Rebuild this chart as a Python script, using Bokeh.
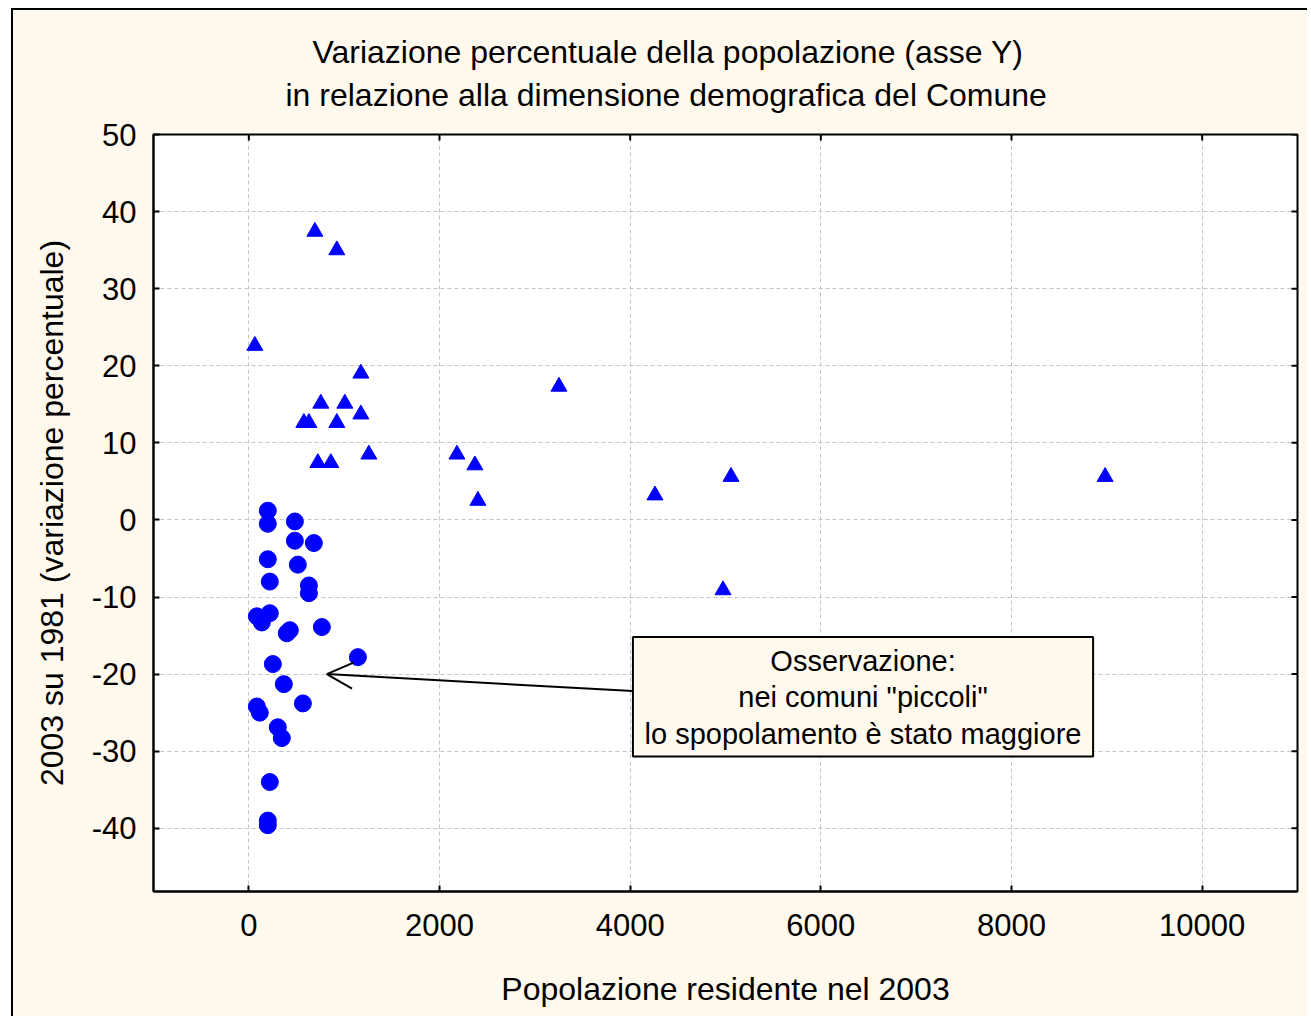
import math
from bokeh.plotting import figure
from bokeh.models import (Range1d, FixedTicker, Label, BoxAnnotation,
                          Arrow, OpenHead, Title)
from bokeh.embed import file_html
from bokeh.resources import INLINE

# ---- data ----
tri_x = [693, 923, 63, 1175, 755, 1007, 1175, 577, 630, 923, 724, 860, 1259,
         3253, 2183, 2371, 2403, 4260, 5058, 4974, 8982]
tri_y = [37.4, 35.0, 22.6, 19.0, 15.1, 15.1, 13.7, 12.6, 12.6, 12.6, 7.4, 7.4, 8.5,
         17.3, 8.5, 7.1, 2.5, 3.2, 5.6, -9.1, 5.6]

circ_x = [199, 199, 483, 483, 682, 199, 514, 220, 630, 630, 84, 136, 220, 398, 430,
          766, 1144, 252, 367, 567, 84, 115, 304, 346, 220, 199, 199]
circ_y = [1.2, -0.5, -0.2, -2.7, -3.0, -5.1, -5.8, -8.0, -8.5, -9.5, -12.5, -13.3,
          -12.1, -14.7, -14.3, -13.9, -17.8, -18.7, -21.3, -23.8, -24.2, -25.0,
          -26.9, -28.3, -34.0, -39.0, -39.6]

x_ticks = [0, 2000, 4000, 6000, 8000, 10000]
y_ticks = [-40, -30, -20, -10, 0, 10, 20, 30, 40, 50]
y_tick_labels = {t: str(t) for t in y_ticks}   # plain hyphen as in the original
x_min, x_max = -1000, 11000
y_min, y_max = -48.2, 50

title_lines = ["Variazione percentuale della popolazione (asse Y)",
               "in relazione alla dimensione demografica del Comune"]
x_label = "Popolazione residente nel 2003"
y_label = "2003 su 1981 (variazione percentuale)"
note_lines = ["Osservazione:", "nei comuni \"piccoli\"", "lo spopolamento è stato maggiore"]

FONT = "Liberation Sans"
CREAM = "#FFF9EE"

p = figure(width=1296, height=1008,
           x_range=Range1d(x_min, x_max), y_range=Range1d(y_min, y_max),
           output_backend="svg", toolbar_location=None,
           min_border_left=140, min_border_right=12, min_border_top=124,
           min_border_bottom=127,
           background_fill_color="white", border_fill_color=CREAM,
           outline_line_color="black", outline_line_width=2)
p.styles = {"border-left": "2px solid black", "border-top": "2px solid black",
            "margin-left": "11px", "margin-top": "8px"}

# grid
for g in (p.xgrid, p.ygrid):
    g.grid_line_color = "#c4c4c4"
    g.grid_line_dash = "4 3"
    g.grid_line_width = 1
p.xgrid.ticker = FixedTicker(ticks=x_ticks)
p.ygrid.ticker = FixedTicker(ticks=y_ticks)

def style_axis(ax, size):
    ax.axis_line_width = 2
    ax.axis_line_color = "black"
    ax.major_tick_in = 6
    ax.major_tick_out = 0
    ax.major_tick_line_width = 2
    ax.minor_tick_line_color = None
    ax.major_label_text_font = FONT
    ax.major_label_text_font_size = size
    ax.major_label_text_color = "black"
    ax.axis_label_text_font = FONT
    ax.axis_label_text_font_style = "normal"
    ax.axis_label_text_font_size = "32px"
    ax.axis_label_text_color = "black"

xa = p.xaxis[0]
ya = p.yaxis[0]
xa.ticker = FixedTicker(ticks=x_ticks)
ya.ticker = FixedTicker(ticks=y_ticks)
ya.major_label_overrides = y_tick_labels
style_axis(xa, "31px")
style_axis(ya, "31px")
xa.axis_label = x_label
ya.axis_label = y_label
xa.major_label_standoff = 22
ya.major_label_standoff = 17
xa.axis_label_standoff = 32
ya.axis_label_standoff = 19

# inward ticks on the right and top frame edges
p.ray(x=[x_max] * len(y_ticks), y=y_ticks, length=6, length_units="screen",
      angle=math.pi, line_color="black", line_width=2)
p.ray(x=x_ticks, y=[y_max] * len(x_ticks), length=6, length_units="screen",
      angle=-math.pi / 2, line_color="black", line_width=2)

# title: two lines
p.title.text = title_lines[0]
p.title.align = "left"
p.title.offset = 159
p.title.text_font = FONT
p.title.text_font_size = "32px"
p.title.text_font_style = "normal"
p.title.text_color = "black"
p.title.standoff = -34
sub = Title(text=title_lines[1], align="left", offset=132, text_font=FONT,
            text_font_size="32px", text_font_style="normal", text_color="black",
            standoff=44)
p.add_layout(sub, "above")

# points
p.scatter(circ_x, circ_y, marker="circle", size=17, fill_color="#0000FF",
          line_color="#0000FF")
p.scatter(tri_x, tri_y, marker="triangle", size=16, fill_color="#0000FF",
          line_color="#0000FF")

# annotation box with arrow
box_l, box_r, box_t, box_b = 4029, 8856, -15.2, -30.7
p.add_layout(Arrow(x_start=box_l, y_start=-22.2, x_end=818, y_end=-20.0,
                   line_width=2, line_color="black",
                   end=OpenHead(size=26, line_width=2, line_color="black")))
p.add_layout(BoxAnnotation(left=box_l, right=box_r, top=box_t, bottom=box_b,
                           fill_color=CREAM, fill_alpha=1.0,
                           line_color="black", line_alpha=1.0, line_width=2))
note_x = (box_l + box_r) / 2
note_y = [-18.35, -23.0, -27.8]
for txt, ny in zip(note_lines, note_y):
    p.add_layout(Label(x=note_x, y=ny, text=txt, text_align="center",
                       text_baseline="middle", text_font=FONT,
                       text_font_size="29px", text_color="black"))

open("out.html", "w").write(file_html(p, INLINE))
